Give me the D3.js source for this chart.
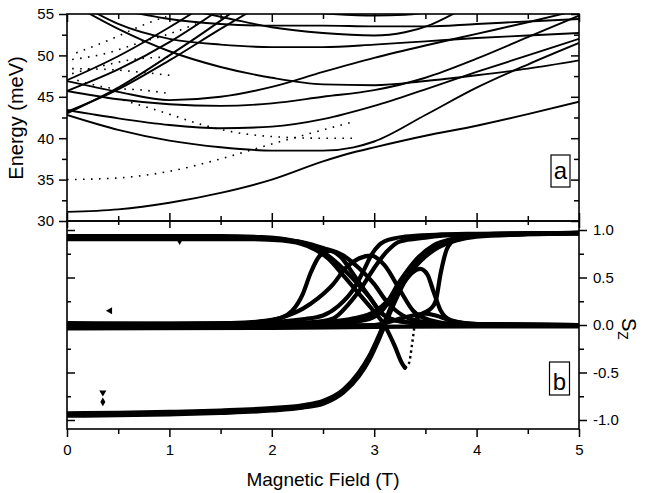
<!DOCTYPE html>
<html><head><meta charset="utf-8">
<script src="https://cdn.jsdelivr.net/npm/d3@7"></script>
<style>body{margin:0;background:#fff}svg{display:block}</style>
</head><body><svg id="chart" width="647" height="493"></svg>
<script>
// ---------- tick labels ----------
const fieldTicks = [0, 1, 2, 3, 4, 5];
const fieldMinor = [0.5, 1.5, 2.5, 3.5, 4.5];
const energyTicks = [30, 35, 40, 45, 50, 55];
const energyMinor = [32.5, 37.5, 42.5, 47.5, 52.5];
const szTicks = [-1.0, -0.5, 0.0, 0.5, 1.0];
const szMinor = [-0.75, -0.25, 0.25, 0.75];

// ---------- panel a : energy levels [B (T), E (meV)] ----------
const level1 = [[0,31.1],[0.5,31.4],[1,32.2],[1.5,33.4],[2,35.0],[2.5,37.2],[2.8,38.3],[3,38.9],[3.5,40.3],[4,41.5],[4.5,42.9],[5,44.4]];
const level2 = [[0,42.8],[0.5,41.0],[1,39.7],[1.5,38.9],[2,38.5],[2.5,38.5],[2.8,38.9],[3,39.6],[3.5,42.8],[4,46.1],[4.5,48.9],[5,51.5]];
const level3 = [[0,43.4],[0.5,42.4],[1,41.6],[1.5,41.2],[2,41.4],[2.5,42.3],[3,43.9],[3.5,45.9],[4,48.0],[4.5,50.0],[5,52.0]];
const level4 = [[0,45.7],[0.5,44.7],[1,44.1],[1.5,43.9],[2,44.2],[2.5,45.0],[3,45.8],[3.5,47.3],[4,49.6],[4.5,52.2],[5,54.8]];
const level5 = [[0.18,55.3],[0.5,53.2],[1,50.5],[1.5,48.6],[2,47.3],[2.5,46.5],[3,46.4],[3.5,46.9],[4,47.6],[4.5,48.4],[5,49.4]];
const level6 = [[0,46.9],[0.5,45.6],[1,44.6],[1.5,45.0],[2,46.2],[2.5,48.0],[3,49.7],[3.5,51.2],[4,52.6],[4.5,54.0],[4.9,55.2]];
const level7 = [[0.27,55.2],[0.5,53.8],[1,52.0],[1.5,51.3],[2,51.0],[2.5,51.0],[3,51.3],[3.5,51.7],[4,52.1],[4.5,52.4],[5,52.7]];
const level8 = [[0.6,55.3],[1,54.4],[1.5,53.8],[2,53.6],[2.5,53.6],[3,53.5],[3.5,53.5],[4,53.8],[4.5,54.1],[5,54.4]];
const level9 = [[1.3,55.2],[1.6,54.4],[2,53.4],[2.5,52.7],[3,52.4],[3.3,52.8],[3.55,53.7],[3.8,55.2]];
const level10 = [[2.2,55.4],[2.6,55.0],[3.0,54.8],[3.3,54.9],[3.6,55.4]];
const level11 = [[0,43.0],[0.5,46.1],[1,50.0],[1.5,54.2],[1.6,55.1]];
const level12 = [[0,43.2],[0.5,45.9],[1,49.4],[1.5,53.2],[1.8,55.4]];
const level13 = [[0,47.0],[0.5,49.9],[1,53.4],[1.25,55.3]];
const level14 = [[0,45.7],[0.5,48.3],[1,51.6],[1.45,55.2]];
const solidLevels = [level1, level2, level3, level4, level5, level6, level7, level8, level9, level10, level11, level12, level13, level14];

const dotted1 = [[0,35.0],[0.5,35.2],[1,36.0],[1.5,37.5],[2,39.3],[2.5,41.0],[2.8,42.0]];
const dotted2 = [[0.55,44.6],[1,42.9],[1.3,41.7],[1.6,40.8],[2,40.2],[2.5,40.0],[2.8,40.0]];
const dotted3 = [[0.1,47.0],[0.4,46.1],[0.75,45.8],[1.0,45.4]];
const dotted4 = [[0.05,48.4],[0.4,48.3],[0.7,48.0],[1.0,47.6]];
const dotted5 = [[0.09,50.3],[0.42,51.9],[0.71,53.5],[0.97,54.7]];
const dotted6 = [[0.05,49.5],[0.4,50.3],[0.7,51.5],[1.0,52.6],[1.3,54.0]];
const dotted7 = [[0.05,47.8],[0.4,48.9],[0.7,49.6],[1.0,49.8]];
const dottedLevels = [dotted1, dotted2, dotted3, dotted4, dotted5, dotted6, dotted7];

// ---------- panel b : S_z [B (T), Sz] ----------
const szU1 = [[0,0.935],[1.5,0.935],[1.9,0.925],[2.2,0.89],[2.4,0.83],[2.55,0.73],[2.7,0.59],[2.85,0.42],[2.95,0.3],[3.05,0.15],[3.2,0.05],[3.5,0.015],[4,0.0],[5,0.0]];
const szU2 = [[0,0.92],[1.8,0.92],[2.1,0.9],[2.3,0.87],[2.5,0.81],[2.7,0.73],[2.85,0.6],[3.0,0.43],[3.12,0.25],[3.28,0.1],[3.5,0.03],[3.8,0.01],[5,-0.005]];
const szU3a = [[0,0.905],[1.8,0.905],[2.1,0.89],[2.35,0.83],[2.55,0.7],[2.7,0.52],[2.85,0.33],[3.0,0.14],[3.1,0.0],[3.2,-0.22],[3.27,-0.4],[3.3,-0.45]];
const szU3gap = [[3.3,-0.45],[3.34,-0.4],[3.37,-0.2],[3.4,0.05]];
const szU3b = [[3.4,0.05],[3.47,0.12],[3.55,0.17],[3.6,0.25],[3.65,0.55],[3.71,0.8],[3.8,0.91],[3.95,0.95],[4.2,0.96],[5,0.965]];
const szM1 = [[0,0.02],[1,0.015],[1.6,0.02],[1.9,0.04],[2.1,0.08],[2.2,0.15],[2.3,0.32],[2.38,0.55],[2.47,0.73],[2.57,0.78],[2.67,0.72],[2.8,0.53],[2.95,0.3],[3.1,0.1],[3.3,0.03],[3.6,0.01],[5,0.0]];
const szM2 = [[0,0.0],[1.5,0.005],[1.9,0.03],[2.1,0.08],[2.3,0.17],[2.45,0.28],[2.6,0.43],[2.72,0.6],[2.85,0.7],[2.97,0.73],[3.1,0.63],[3.25,0.37],[3.38,0.15],[3.55,0.05],[3.8,0.01],[5,0.0]];
const szM3 = [[0,-0.01],[2,0.0],[2.5,0.03],[2.8,0.07],[3.0,0.14],[3.15,0.27],[3.27,0.42],[3.37,0.55],[3.45,0.59],[3.52,0.53],[3.58,0.35],[3.65,0.15],[3.75,0.05],[4,0.01],[5,0.0]];
const szM4 = [[0,-0.02],[2,-0.01],[3,0.0],[3.3,0.08],[3.5,0.12],[3.6,0.1],[3.8,0.03],[4.2,0.0],[5,-0.01]];
const szM5 = [[0,-0.035],[2,-0.03],[3,-0.02],[4,-0.015],[5,-0.015]];
const szS1 = [[0,0.01],[1.5,0.015],[2,0.03],[2.3,0.06],[2.5,0.1],[2.65,0.2],[2.8,0.38],[2.9,0.58],[2.98,0.75],[3.1,0.88],[3.3,0.93],[3.6,0.95],[4,0.96],[5,0.97]];
const szS2 = [[0,0.0],[2,0.01],[2.4,0.03],[2.6,0.07],[2.75,0.22],[2.88,0.4],[3.0,0.6],[3.12,0.77],[3.25,0.88],[3.5,0.92],[3.8,0.95],[4.2,0.96],[5,0.97]];
const szS3 = [[0,-0.01],[2.5,0.01],[2.8,0.04],[3.0,0.1],[3.1,0.2],[3.25,0.46],[3.42,0.7],[3.58,0.84],[3.74,0.9],[4,0.94],[4.5,0.96],[5,0.97]];
const szS4 = [[0,-0.02],[2.5,0.0],[2.9,0.05],[3.05,0.12],[3.18,0.3],[3.32,0.53],[3.48,0.73],[3.65,0.86],[3.85,0.92],[4.2,0.95],[5,0.965]];
const szL1 = [[0,-0.93],[0.5,-0.925],[1,-0.915],[1.5,-0.9],[2,-0.875],[2.3,-0.845],[2.5,-0.8],[2.7,-0.68],[2.85,-0.5],[2.95,-0.33],[3.05,-0.1],[3.12,0.08],[3.2,0.28],[3.3,0.5],[3.45,0.7],[3.6,0.82],[3.8,0.9],[4,0.94],[4.5,0.96],[5,0.97]];
const szL2 = [[0,-0.955],[0.5,-0.95],[1,-0.94],[1.5,-0.925],[2,-0.9],[2.3,-0.87],[2.5,-0.83],[2.7,-0.71],[2.85,-0.54],[2.95,-0.37],[3.05,-0.14],[3.12,0.04],[3.2,0.24],[3.3,0.46],[3.45,0.67],[3.6,0.8],[3.8,0.89],[4,0.93],[4.5,0.955],[5,0.965]];
const szCurves = [szU1, szU2, szU3a, szU3b, szM1, szM2, szM3, szM4, szM5, szS1, szS2, szS3, szS4, szL1, szL2];
const szDotted = [szU3gap];

// stray symbols in panel b
const markerField = [0.42, 0.35, 0.35, 1.1];
const markerSz = [0.15, -0.71, -0.81, 0.885];
const markerShape = ["left", "down", "diamond", "down"];

// ---------- drawing ----------
const FONT = "Arial, 'Liberation Sans', Helvetica, sans-serif";
const svg = d3.select("#chart");
svg.append("rect").attr("width", 647).attr("height", 493).attr("fill", "#fff");

const L = 67, R = 579, TA = 14, MID = 221, BB = 429;
const x = d3.scaleLinear().domain([0, 5]).range([L, R]);
const yE = d3.scaleLinear().domain([30, 55]).range([MID, TA]);
const yS = d3.scaleLinear().domain([-1, 1]).range([420, 230]);

const defs = svg.append("defs");
defs.append("clipPath").attr("id", "clipA").append("rect").attr("x", L).attr("y", TA).attr("width", R - L).attr("height", MID - TA);
defs.append("clipPath").attr("id", "clipB").append("rect").attr("x", L).attr("y", MID).attr("width", R - L).attr("height", BB - MID);

const lineA = d3.line().x(d => x(d[0])).y(d => yE(d[1])).curve(d3.curveMonotoneX);
const lineB = d3.line().x(d => x(d[0])).y(d => yS(d[1])).curve(d3.curveMonotoneX);

const gA = svg.append("g").attr("clip-path", "url(#clipA)");
gA.selectAll("path.dot").data(dottedLevels).join("path")
  .attr("d", lineA).attr("fill", "none").attr("stroke", "#000")
  .attr("stroke-width", 1.6).attr("stroke-dasharray", "1.6,6.4");
gA.selectAll("path.lvl").data(solidLevels).join("path")
  .attr("d", lineA).attr("fill", "none").attr("stroke", "#000").attr("stroke-width", 1.9);

const gB = svg.append("g").attr("clip-path", "url(#clipB)");
gB.selectAll("path.sz").data(szCurves).join("path")
  .attr("d", lineB).attr("fill", "none").attr("stroke", "#000")
  .attr("stroke-width", 4.2).attr("stroke-linejoin", "round").attr("stroke-linecap", "round");
gB.selectAll("path.szd").data(szDotted).join("path")
  .attr("d", lineB).attr("fill", "none").attr("stroke", "#000")
  .attr("stroke-width", 2.4).attr("stroke-dasharray", "2.4,3.2");
const symMap = {left: [d3.symbolTriangle, -90], down: [d3.symbolTriangle, 180], diamond: [d3.symbolDiamond, 0]};
gB.selectAll("path.mk").data(markerField.map((b, i) => [b, markerSz[i], markerShape[i]])).join("path")
  .attr("d", d => d3.symbol().type(symMap[d[2]][0]).size(22)())
  .attr("transform", d => `translate(${x(d[0])},${yS(d[1])}) rotate(${symMap[d[2]][1]})`)
  .attr("fill", "#000");

// frames
svg.append("rect").attr("x", L).attr("y", TA).attr("width", R - L).attr("height", MID - TA)
  .attr("fill", "none").attr("stroke", "#000").attr("stroke-width", 1.6);
svg.append("rect").attr("x", L).attr("y", MID).attr("width", R - L).attr("height", BB - MID)
  .attr("fill", "none").attr("stroke", "#000").attr("stroke-width", 1.6);

function axis(gen, tx, ty, vals, size, fmt, pad) {
  const g = svg.append("g").attr("transform", `translate(${tx},${ty})`)
    .call(gen.tickValues(vals).tickSize(size).tickPadding(pad || 3).tickFormat(fmt || (() => "")));
  g.select(".domain").remove();
  g.selectAll("line").attr("stroke", "#000").attr("stroke-width", 1.5);
  g.attr("font-size", 15).attr("font-family", FONT);
  g.selectAll("text").attr("fill", "#000");
  return g;
}
const fmtInt = d => String(d);
const fmt1 = d => d.toFixed(1);

// panel a left (outward, labelled)
axis(d3.axisLeft(yE), L, 0, energyTicks, 8, fmtInt, 5);
axis(d3.axisLeft(yE), L, 0, energyMinor, 5);
// panel a right (inward)
axis(d3.axisLeft(yE), R, 0, energyTicks, 8);
axis(d3.axisLeft(yE), R, 0, energyMinor, 5);
// top (inward)
axis(d3.axisBottom(x), 0, TA, fieldTicks, 8);
axis(d3.axisBottom(x), 0, TA, fieldMinor, 5);
// middle line: ticks up into a and down into b
axis(d3.axisTop(x), 0, MID, fieldTicks, 8);
axis(d3.axisTop(x), 0, MID, fieldMinor, 5);
axis(d3.axisBottom(x), 0, MID, fieldTicks, 7);
axis(d3.axisBottom(x), 0, MID, fieldMinor, 4);
// bottom (outward, labelled)
axis(d3.axisBottom(x), 0, BB, fieldTicks, 8, fmtInt, 7);
axis(d3.axisBottom(x), 0, BB, fieldMinor, 5);
// panel b left (inward, unlabelled)
axis(d3.axisRight(yS), L, 0, szTicks, 8);
axis(d3.axisRight(yS), L, 0, szMinor, 4);
// panel b right (outward, labelled)
axis(d3.axisRight(yS), R, 0, szTicks, 8, fmt1, 6);
axis(d3.axisRight(yS), R, 0, szMinor, 5);

// axis titles
svg.append("text").attr("transform", "translate(23,118) rotate(-90)")
  .attr("text-anchor", "middle").attr("font-family", FONT).attr("font-size", 20).attr("fill", "#000")
  .text("Energy (meV)");
svg.append("text").attr("x", (L + R) / 2).attr("y", 486)
  .attr("text-anchor", "middle").attr("font-family", FONT).attr("font-size", 19).attr("fill", "#000")
  .text("Magnetic Field (T)");
const sz = svg.append("text").attr("transform", "translate(622,318) rotate(90)")
  .attr("font-family", FONT).attr("font-size", 20).attr("fill", "#000");
sz.append("tspan").text("S");
sz.append("tspan").attr("font-size", 14).attr("dy", 4).text("Z");

// panel labels
function panelLabel(bx, by, w, h, t, base) {
  svg.append("rect").attr("x", bx).attr("y", by).attr("width", w).attr("height", h)
    .attr("fill", "#fff").attr("stroke", "#000").attr("stroke-width", 1.2);
  svg.append("text").attr("x", bx + w / 2).attr("y", base).attr("text-anchor", "middle")
    .attr("font-family", FONT).attr("font-size", 24).attr("fill", "#000").text(t);
}
panelLabel(551, 155, 19, 32, "a", 178.5);
panelLabel(549.5, 362, 20, 33, "b", 390);
</script></body></html>
